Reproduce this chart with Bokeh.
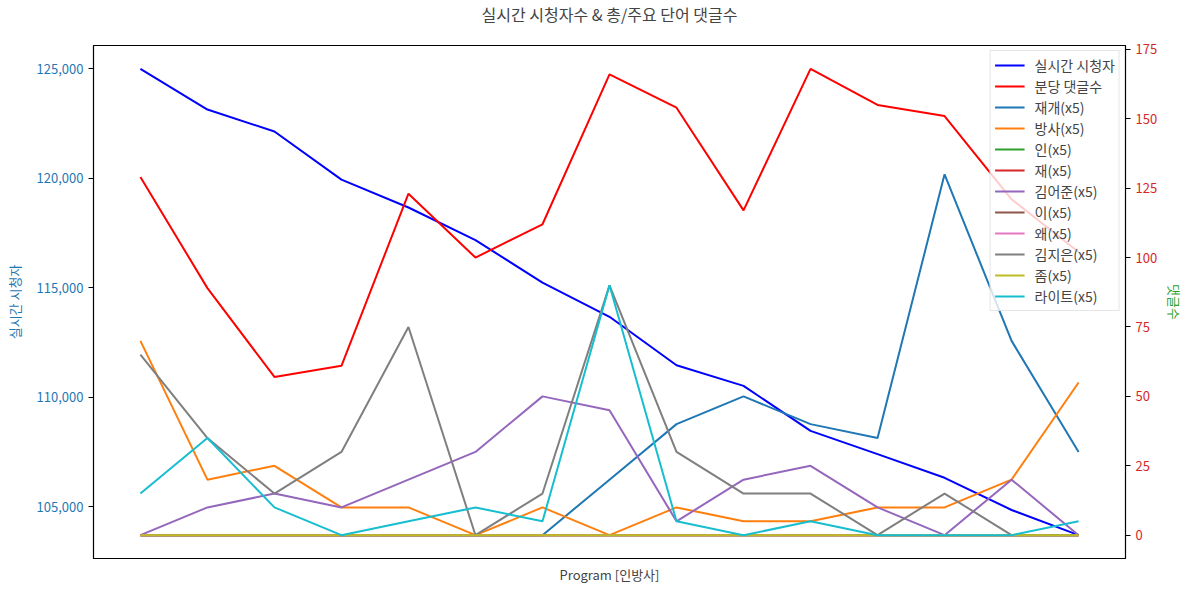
from bokeh.plotting import figure
from bokeh.models import Range1d, LinearAxis, FixedTicker, NumeralTickFormatter, Legend, LegendItem
from bokeh.embed import file_html
from bokeh.resources import INLINE

FONT = "Noto Sans CJK KR"

TITLE = "실시간 시청자수 & 총/주요 단어 댓글수"

# x positions (programs / time slots, unlabeled)
slots = list(range(15))

viewers = [125000, 123140, 122140, 119940, 118670, 117180, 115240, 113680,
           111470, 110525, 108470, 107410, 106330, 104860, 103710]
comments_per_min = [129, 89, 57, 61, 123, 100, 112, 166, 154, 117, 168, 155, 151, 121, 102]

word_names = ["재개(x5)", "방사(x5)", "인(x5)", "재(x5)", "김어준(x5)", "이(x5)",
              "왜(x5)", "김지은(x5)", "좀(x5)", "라이트(x5)"]
w_jaegae = [0, 0, 0, 0, 0, 0, 0, 20, 40, 50, 40, 35, 130, 70, 30]
w_bangsa = [70, 20, 25, 10, 10, 0, 10, 0, 10, 5, 5, 10, 10, 20, 55]
w_in = [0] * 15
w_jae = [0] * 15
w_kimeojun = [0, 10, 15, 10, 20, 30, 50, 45, 5, 20, 25, 10, 0, 20, 0]
w_i = [0] * 15
w_wae = [0] * 15
w_kimjieun = [65, 35, 15, 30, 75, 0, 15, 90, 30, 15, 15, 0, 15, 0, 0]
w_jom = [0] * 15
w_light = [15, 35, 10, 0, 5, 10, 5, 90, 5, 0, 5, 0, 0, 0, 5]
word_series = [w_jaegae, w_bangsa, w_in, w_jae, w_kimeojun, w_i, w_wae, w_kimjieun, w_jom, w_light]
word_colors = ["#1f77b4", "#ff7f0e", "#2ca02c", "#d62728", "#9467bd", "#8c564b",
               "#e377c2", "#7f7f7f", "#bcbd22", "#17becf"]

left_ticks = [105000, 110000, 115000, 120000, 125000]
right_ticks = [0, 25, 50, 75, 100, 125, 150, 175]


def padded(lo, hi, frac=0.05):
    d = (hi - lo) * frac
    return lo - d, hi + d


vlo, vhi = padded(min(viewers), max(viewers))
all_c = comments_per_min + [v for s in word_series for v in s]
clo, chi = padded(min(all_c), max(all_c))
xlo, xhi = padded(min(slots), max(slots))

p = figure(width=1189, height=592, output_backend="svg", toolbar_location=None,
           x_range=Range1d(xlo, xhi), y_range=Range1d(vlo, vhi),
           min_border_left=93, min_border_right=64, min_border_top=45, min_border_bottom=34,
           background_fill_color="white", border_fill_color="white")
p.outline_line_color = "black"
p.outline_line_width = 1.2
p.grid.visible = False

p.title.text = TITLE + "\n "
p.title.align = "center"
p.title.text_font = FONT
p.title.text_font_size = "16px"
p.title.text_font_style = "normal"
p.title.text_line_height = 0.8
p.title.standoff = 0

# bottom axis
p.xaxis.ticker = FixedTicker(ticks=[])
p.xaxis.axis_label = "Program [인방사]"
p.xaxis.axis_label_text_font = FONT
p.xaxis.axis_label_text_font_size = "13px"
p.xaxis.axis_label_text_font_style = "normal"
p.xaxis.axis_label_standoff = 6
p.xaxis.axis_line_color = "black"

# left axis
p.yaxis.ticker = FixedTicker(ticks=left_ticks)
p.yaxis.formatter = NumeralTickFormatter(format="0,0")
p.yaxis.axis_label = "실시간 시청자"
p.yaxis.axis_label_text_color = "#1f77b4"
p.yaxis.axis_label_text_font = FONT
p.yaxis.axis_label_text_font_size = "13px"
p.yaxis.axis_label_text_font_style = "normal"
p.yaxis.axis_label_standoff = 10
p.yaxis.major_label_text_color = "#1f77b4"
p.yaxis.major_label_text_font = FONT
p.yaxis.major_label_text_font_size = "13px"
p.yaxis.major_tick_in = 0
p.yaxis.major_tick_out = 5
p.yaxis.minor_tick_line_color = None
p.yaxis.axis_line_color = "black"

# right axis
p.extra_y_ranges = {"c": Range1d(clo, chi)}
ax2 = LinearAxis(y_range_name="c", ticker=FixedTicker(ticks=right_ticks),
                 axis_label="댓글수")
ax2.axis_label_text_color = "#2ca02c"
ax2.axis_label_text_font = FONT
ax2.axis_label_text_font_size = "13px"
ax2.axis_label_text_font_style = "normal"
ax2.major_label_text_color = "#d62728"
ax2.major_label_text_font = FONT
ax2.major_label_text_font_size = "13px"
ax2.major_tick_in = 0
ax2.major_tick_out = 5
ax2.minor_tick_line_color = None
ax2.axis_line_color = "black"
p.add_layout(ax2, "right")

items = []
r = p.line(slots, viewers, line_color="blue", line_width=2)
items.append(LegendItem(label="실시간 시청자", renderers=[r]))
r = p.line(slots, comments_per_min, line_color="red", line_width=2, y_range_name="c")
items.append(LegendItem(label="분당 댓글수", renderers=[r]))
for name, s, c in zip(word_names, word_series, word_colors):
    r = p.line(slots, s, line_color=c, line_width=2, y_range_name="c")
    items.append(LegendItem(label=name, renderers=[r]))

legend = Legend(items=items, location="top_right", margin=5, padding=4, spacing=1,
                label_text_font=FONT, label_text_font_size="14px",
                glyph_width=30, glyph_height=20, label_height=20, label_standoff=10,
                border_line_color="#cccccc", border_line_width=1,
                background_fill_color="white", background_fill_alpha=0.8)
p.add_layout(legend, "center")

open("out.html", "w").write(file_html(p, INLINE))
